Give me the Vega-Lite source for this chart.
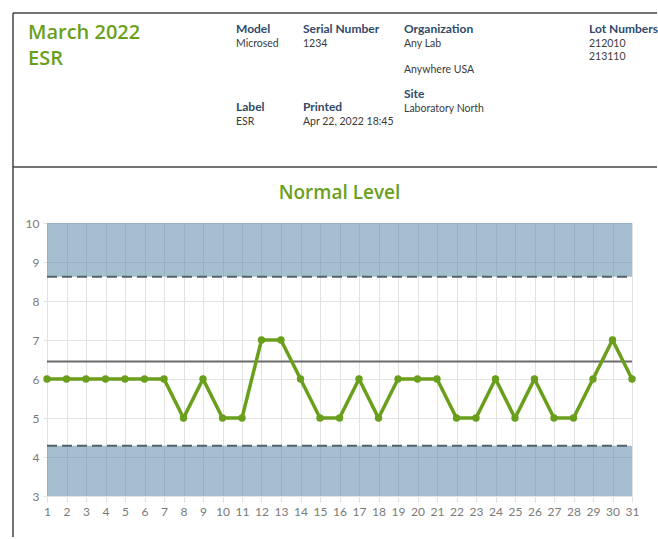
{
  "$schema": "https://vega.github.io/schema/vega-lite/v6.json",
  "padding": {"left": 12, "top": 12, "right": 0, "bottom": 0},
  "autosize": {"type": "pad"},
  "background": "white",
  "config": {"view": {"stroke": null}, "font": "Lato"},
  "columns": 1,
  "spacing": -3,
  "datasets": {
    "header": [
      {"colIndex": 0, "line": 0, "text": "March 2022\nESR", "kind": "title"},
      {"colIndex": 1, "line": 0, "text": "Model", "kind": "head"},
      {"colIndex": 1, "line": 1, "text": "Microsed", "kind": "value"},
      {"colIndex": 2, "line": 0, "text": "Serial Number", "kind": "head"},
      {"colIndex": 2, "line": 1, "text": "1234", "kind": "value"},
      {"colIndex": 3, "line": 0, "text": "Organization", "kind": "head"},
      {"colIndex": 3, "line": 1, "text": "Any Lab", "kind": "value"},
      {"colIndex": 3, "line": 3, "text": "Anywhere USA", "kind": "value"},
      {"colIndex": 3, "line": 5, "text": "Site", "kind": "head"},
      {"colIndex": 3, "line": 6, "text": "Laboratory North", "kind": "value"},
      {"colIndex": 4, "line": 0, "text": "Lot Numbers", "kind": "head"},
      {"colIndex": 4, "line": 1, "text": "212010", "kind": "value"},
      {"colIndex": 4, "line": 2, "text": "213110", "kind": "value"},
      {"colIndex": 1, "line": 6, "text": "Label", "kind": "head"},
      {"colIndex": 1, "line": 7, "text": "ESR", "kind": "value"},
      {"colIndex": 2, "line": 6, "text": "Printed", "kind": "head"},
      {"colIndex": 2, "line": 7, "text": "Apr 22, 2022 18:45", "kind": "value"}
    ],
    "results": [
      {"day": 1, "value": 6}, {"day": 2, "value": 6}, {"day": 3, "value": 6},
      {"day": 4, "value": 6}, {"day": 5, "value": 6}, {"day": 6, "value": 6},
      {"day": 7, "value": 6}, {"day": 8, "value": 5}, {"day": 9, "value": 6},
      {"day": 10, "value": 5}, {"day": 11, "value": 5}, {"day": 12, "value": 7},
      {"day": 13, "value": 7}, {"day": 14, "value": 6}, {"day": 15, "value": 5},
      {"day": 16, "value": 5}, {"day": 17, "value": 6}, {"day": 18, "value": 5},
      {"day": 19, "value": 6}, {"day": 20, "value": 6}, {"day": 21, "value": 6},
      {"day": 22, "value": 5}, {"day": 23, "value": 5}, {"day": 24, "value": 6},
      {"day": 25, "value": 5}, {"day": 26, "value": 6}, {"day": 27, "value": 5},
      {"day": 28, "value": 5}, {"day": 29, "value": 6}, {"day": 30, "value": 7},
      {"day": 31, "value": 6}
    ],
    "bands": [
      {"zone": "above upper limit", "lo": 8.62, "hi": 10},
      {"zone": "below lower limit", "lo": 3, "hi": 4.29}
    ],
    "limits": [
      {"limit": "upper", "value": 8.62},
      {"limit": "lower", "value": 4.29}
    ],
    "mean": [{"value": 6.45}],
    "frame": [{"part": "frame"}]
  },
  "concat": [
    {
      "width": 611,
      "height": 154,
      "layer": [
        {
          "data": {"name": "header"},
          "transform": [{"filter": "datum.kind === 'title'"}],
          "mark": {"type": "text", "align": "left", "baseline": "alphabetic", "dy": 10, "lineBreak": "\n", "lineHeight": 26,
                   "font": "Open Sans", "fontSize": 20, "fontWeight": 600, "color": "#6a9f1c"},
          "encoding": {
            "x": {"field": "colIndex", "type": "quantitative", "axis": null,
                  "scale": {"domain": [0, 1, 2, 3, 4], "range": [-19, 189, 256, 357, 542], "nice": false, "zero": false}},
            "y": {"field": "line", "type": "quantitative", "axis": null,
                  "scale": {"domain": [0, 10], "range": [16, 146], "nice": false, "zero": false}},
            "text": {"field": "text"}
          }
        },
        {
          "data": {"name": "header"},
          "transform": [{"filter": "datum.kind === 'head'"}],
          "mark": {"type": "text", "align": "left", "baseline": "middle", "dy": -0.5, "fontSize": 12, "fontWeight": "bold", "color": "#2f4a6b"},
          "encoding": {
            "x": {"field": "colIndex", "type": "quantitative"},
            "y": {"field": "line", "type": "quantitative"},
            "text": {"field": "text"}
          }
        },
        {
          "data": {"name": "header"},
          "transform": [{"filter": "datum.kind === 'value'"}],
          "mark": {"type": "text", "align": "left", "baseline": "middle", "dy": 1.5, "fontSize": 10.5, "color": "#3a3a3a"},
          "encoding": {
            "x": {"field": "colIndex", "type": "quantitative"},
            "y": {"field": "line", "type": "quantitative"},
            "text": {"field": "text"}
          }
        },
        {
          "data": {"name": "frame"},
          "mark": {"type": "rule", "color": "#444444", "strokeWidth": 1.5},
          "encoding": {
            "x": {"datum": -0.0721, "type": "quantitative"},
            "x2": {"datum": 4.3676},
            "y": {"datum": -1.2308, "type": "quantitative"}
          }
        },
        {
          "data": {"name": "frame"},
          "mark": {"type": "rule", "color": "#444444", "strokeWidth": 1.5},
          "encoding": {
            "x": {"datum": -0.0721, "type": "quantitative"},
            "x2": {"datum": 4.3676},
            "y": {"datum": 10.615, "type": "quantitative"}
          }
        },
        {
          "data": {"name": "frame"},
          "mark": {"type": "rule", "color": "#444444", "strokeWidth": 1.5},
          "encoding": {
            "x": {"datum": -0.0721, "type": "quantitative"},
            "y": {"datum": -1.2308, "type": "quantitative"},
            "y2": {"datum": 10.615}
          }
        }
      ]
    },
    {
      "width": 585,
      "height": 273,
      "title": {"text": "Normal Level", "color": "#6a9f1c", "fontSize": 19, "fontWeight": 600, "font": "Open Sans", "anchor": "middle", "offset": -37.5},
      "layer": [
        {
          "data": {"name": "bands"},
          "mark": {"type": "rect", "color": "#4b7fa3", "opacity": 0.5},
          "encoding": {
            "x": {"datum": 1, "type": "quantitative"},
            "x2": {"datum": 31},
            "y": {"field": "lo", "type": "quantitative"},
            "y2": {"field": "hi"}
          }
        },
        {
          "data": {"name": "limits"},
          "mark": {"type": "rule", "color": "#56606b", "strokeWidth": 2, "strokeDash": [10, 5]},
          "encoding": {
            "x": {"datum": 1, "type": "quantitative"},
            "x2": {"datum": 31},
            "y": {"field": "value", "type": "quantitative"}
          }
        },
        {
          "data": {"name": "mean"},
          "mark": {"type": "rule", "color": "#6b6b6b", "strokeWidth": 2},
          "encoding": {
            "x": {"datum": 1, "type": "quantitative"},
            "x2": {"datum": 31},
            "y": {"field": "value", "type": "quantitative"}
          }
        },
        {
          "data": {"name": "results"},
          "mark": {"type": "line", "color": "#6a9f1c", "strokeWidth": 3.5,
                   "point": {"filled": true, "size": 55, "color": "#6a9f1c"}},
          "encoding": {
            "x": {"field": "day", "type": "quantitative"},
            "y": {"field": "value", "type": "quantitative"}
          }
        },
        {
          "data": {"name": "frame"},
          "mark": {"type": "rule", "color": "#444444", "strokeWidth": 1.5},
          "encoding": {
            "x": {"datum": -0.744, "type": "quantitative"},
            "y": {"datum": 11.45, "type": "quantitative"},
            "y2": {"datum": 1.95}
          }
        }
      ],
      "encoding": {
        "x": {"type": "quantitative",
              "scale": {"domain": [1, 31], "nice": false, "zero": false},
              "axis": {"title": null, "values": [1,2,3,4,5,6,7,8,9,10,11,12,13,14,15,16,17,18,19,20,21,22,23,24,25,26,27,28,29,30,31],
                       "domain": false, "grid": true, "gridColor": "#e2e2e2", "tickColor": "#e2e2e2", "tickSize": 6,
                       "labelPadding": 4, "labelColor": "#7a7a7a", "labelFontSize": 12, "labelFont": "Lato", "labelFlush": false}},
        "y": {"type": "quantitative",
              "scale": {"domain": [3, 10], "nice": false, "zero": false},
              "axis": {"title": null, "values": [3,4,5,6,7,8,9,10],
                       "domain": false, "grid": true, "gridColor": "#e2e2e2", "tickColor": "#e2e2e2", "tickSize": 4,
                       "labelPadding": 4, "labelColor": "#7a7a7a", "labelFontSize": 12, "labelFont": "Lato", "labelFlush": false}}
      }
    }
  ]
}
